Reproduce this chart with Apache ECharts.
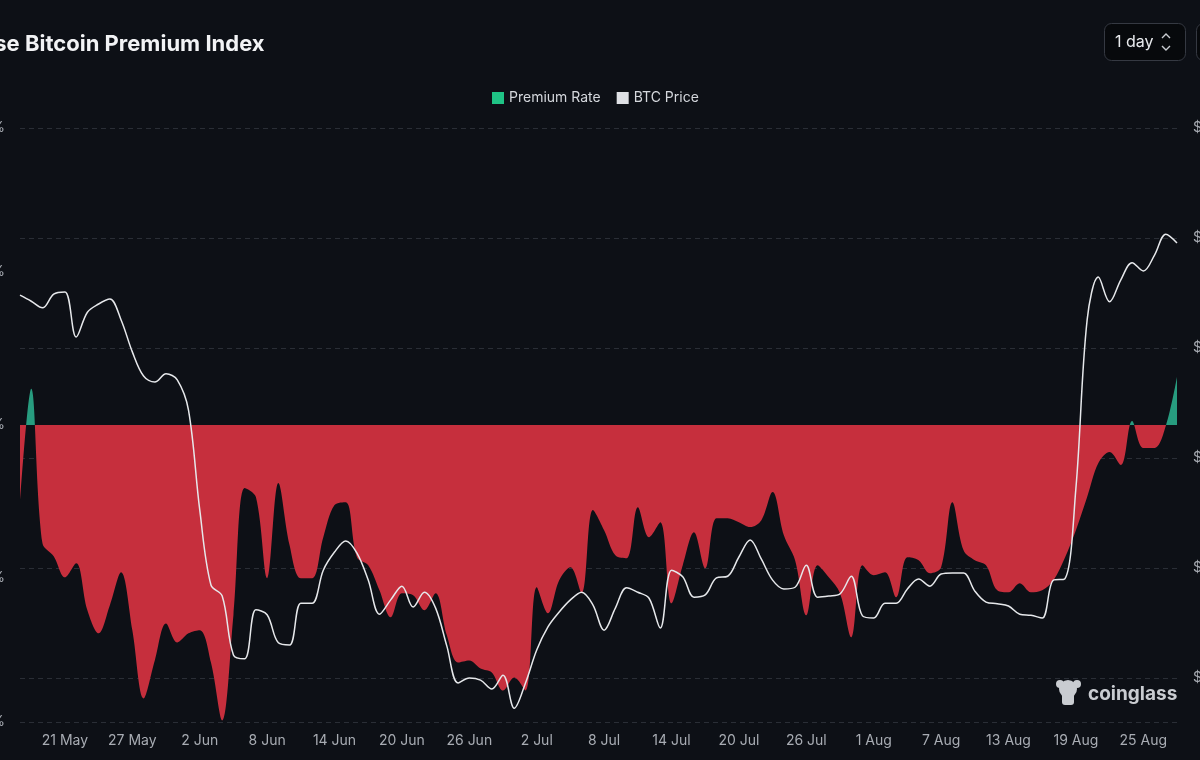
<!DOCTYPE html>
<html>
<head>
<meta charset="utf-8">
<script src="https://cdn.jsdelivr.net/npm/echarts@6/dist/echarts.min.js"></script>
<style>
html,body{margin:0;padding:0;background:#0d1016;}
#chart{width:1200px;height:760px;}
</style>
</head>
<body>
<div id="chart"></div>
<script>
// ---- data ----
var startDate = [2024, 4, 17]; // 17 May
var dayCount = 104;
var monthNames = ['Jan','Feb','Mar','Apr','May','Jun','Jul','Aug','Sep','Oct','Nov','Dec'];

var premiumRate = [
  -0.0510, 0.0236, -0.0772, -0.0857, -0.0995, -0.0903, -0.1210, -0.1361, -0.1178, -0.0962,
  -0.1341, -0.1786, -0.1538, -0.1296, -0.1420, -0.1361, -0.1341, -0.1551, -0.1930, -0.1243,
  -0.0412, -0.0471, -0.1001, -0.0379, -0.0785, -0.1001, -0.1001, -0.0733, -0.0523, -0.0504,
  -0.0864, -0.0916, -0.1080, -0.1256, -0.1099, -0.1112, -0.1210, -0.1099, -0.1374, -0.1551,
  -0.1538, -0.1590, -0.1616, -0.1734, -0.1649, -0.1734, -0.1060, -0.1230, -0.1014, -0.0929,
  -0.1099, -0.0556, -0.0687, -0.0851, -0.0870, -0.0537, -0.0733, -0.0635, -0.1165, -0.0916,
  -0.0700, -0.0936, -0.0609, -0.0609, -0.0635, -0.0667, -0.0622, -0.0438, -0.0720, -0.0883,
  -0.1243, -0.0916, -0.0995, -0.1099, -0.1387, -0.0916, -0.0981, -0.0962, -0.1125, -0.0864,
  -0.0883, -0.0968, -0.0929, -0.0504, -0.0818, -0.0883, -0.0916, -0.1080, -0.1093, -0.1034,
  -0.1093, -0.1080, -0.1014, -0.0870, -0.0687, -0.0471, -0.0249, -0.0177, -0.0262, 0.0026,
  -0.0150, -0.0150, -0.0007, 0.0314
];

var btcPrice = [
  62960, 62850, 62730, 62980, 63020, 62200, 62650, 62800, 62890, 62510,
  61930, 61490, 61380, 61530, 61420, 60870, 59060, 57690, 57490, 56420,
  56350, 57240, 57150, 56640, 56600, 57360, 57360, 57960, 58290, 58490,
  58270, 57780, 57160, 57420, 57670, 57290, 57560, 57270, 56580, 55910,
  56000, 55960, 55800, 56050, 55450, 55910, 56510, 56930, 57200, 57420,
  57560, 57330, 56870, 57270, 57640, 57560, 57450, 56910, 57960, 57840,
  57470, 57510, 57820, 57850, 58200, 58510, 58160, 57780, 57620, 57650,
  58050, 57470, 57490, 57530, 57850, 57130, 57090, 57360, 57360, 57620,
  57800, 57670, 57890, 57910, 57910, 57580, 57380, 57350, 57310, 57160,
  57140, 57090, 57780, 57800, 59450, 62510, 63290, 62840, 63240, 63550,
  63400, 63690, 64070, 63910
];

var leftAxisRange = [-0.194, 0.194];
var rightAxisRange = [55200, 66000];

// categories
var categories = [];
(function () {
  var t0 = Date.UTC(startDate[0], startDate[1], startDate[2]);
  for (var i = 0; i < dayCount; i++) {
    var d = new Date(t0 + i * 86400000);
    categories.push(d.getUTCDate() + ' ' + monthNames[d.getUTCMonth()]);
  }
})();

var RED = '#c62f3d';
var GREEN = '#279c7f';
var LABEL = '#a8acb3';
var GRID = '#2a2e36';
var FONT = 'Inter, "Noto Sans", sans-serif';

var GRID_TOP = 128, GRID_BOTTOM = 38, H = 760;
var plotTop = GRID_TOP, plotBottom = H - GRID_BOTTOM;
var zeroOffset = leftAxisRange[1] / (leftAxisRange[1] - leftAxisRange[0]);

var chart = echarts.init(document.getElementById('chart'), null, {renderer: 'canvas'});

function labelEvery(idx) { return (idx - 4) % 6 === 0; }

var areaFill = new echarts.graphic.LinearGradient(0, plotTop, 0, plotBottom, [
  {offset: 0, color: GREEN},
  {offset: zeroOffset, color: GREEN},
  {offset: zeroOffset, color: RED},
  {offset: 1, color: RED}
], true);

var option = {
  backgroundColor: '#0d1016',
  animation: false,
  title: {
    text: 'Coinbase Bitcoin Premium Index',
    left: -87,
    top: 28,
    textStyle: {color: '#f2f3f5', fontSize: 22, fontWeight: 'bold', fontFamily: FONT}
  },
  legend: {
    top: 86,
    left: 487,
    itemWidth: 12,
    itemHeight: 12,
    itemGap: 16,
    icon: 'rect',
    textStyle: {color: '#d4d7dc', fontSize: 14, fontFamily: FONT},
    data: [
      {name: 'Premium Rate', itemStyle: {color: '#1fc385'}},
      {name: 'BTC Price', itemStyle: {color: '#dfe1e5'}}
    ]
  },
  grid: {left: 20, right: 23, top: GRID_TOP, bottom: GRID_BOTTOM, containLabel: false, outerBoundsMode: 'none'},
  xAxis: {
    type: 'category',
    data: categories,
    boundaryGap: false,
    axisLine: {show: false},
    axisTick: {show: false},
    splitLine: {show: false},
    axisLabel: {
      interval: labelEvery,
      color: LABEL,
      fontSize: 14,
      margin: 12,
      fontFamily: FONT
    }
  },
  yAxis: [
    {
      type: 'value',
      position: 'left',
      min: leftAxisRange[0],
      max: leftAxisRange[1],
      splitNumber: 5,
      splitLine: {show: false},
      axisLine: {show: false},
      axisTick: {show: false},
      axisLabel: {
        color: LABEL, fontSize: 14, margin: 15,
        fontFamily: FONT,
        formatter: function (v) { return v.toFixed(2) + '%'; }
      }
    },
    {
      type: 'value',
      position: 'right',
      min: rightAxisRange[0],
      max: rightAxisRange[1],
      splitNumber: 5,
      axisLine: {show: false},
      axisTick: {show: false},
      splitLine: {show: true, lineStyle: {color: GRID, type: [5, 4], width: 1}},
      axisLabel: {
        color: LABEL, fontSize: 14, margin: 16, showMinLabel: false,
        fontFamily: FONT,
        formatter: function (v) { return '$' + (v / 1000).toFixed(0) + 'K'; }
      }
    }
  ],
  series: [
    {
      name: 'Premium Rate',
      type: 'line',
      yAxisIndex: 0,
      data: premiumRate,
      smooth: 0.35,
      symbol: 'none',
      itemStyle: {color: '#1fc385'},
      lineStyle: {width: 0},
      areaStyle: {color: areaFill, opacity: 1},
      z: 2
    },
    {
      name: 'BTC Price',
      type: 'line',
      yAxisIndex: 1,
      data: btcPrice,
      smooth: 0.35,
      symbol: 'none',
      itemStyle: {color: '#e6e8eb'},
      lineStyle: {color: '#e6e8eb', width: 1.5},
      z: 3
    }
  ],
  graphic: [
    {
      type: 'rect',
      shape: {x: 1104.5, y: 23.5, width: 81, height: 37, r: 7},
      style: {fill: '#07090c', stroke: '#353942', lineWidth: 1}
    },
    {
      type: 'text',
      x: 1115, y: 42,
      style: {text: '1 day', fill: '#e8eaed', fontSize: 16, fontFamily: FONT, verticalAlign: 'middle'}
    },
    {
      type: 'polyline',
      shape: {points: [[1162, 38], [1166, 34], [1170, 38]]},
      style: {stroke: '#c9ccd1', lineWidth: 1.4, fill: null}
    },
    {
      type: 'polyline',
      shape: {points: [[1162, 46], [1166, 50], [1170, 46]]},
      style: {stroke: '#c9ccd1', lineWidth: 1.4, fill: null}
    },
    {
      type: 'rect',
      shape: {x: 1196.5, y: 23.5, width: 40, height: 37, r: 7},
      style: {fill: '#07090c', stroke: '#353942', lineWidth: 1}
    },
    {
      type: 'group',
      children: [
        {type: 'circle', shape: {cx: 1068, cy: 689, r: 9}, style: {fill: '#c9ccd1'}},
        {type: 'circle', shape: {cx: 1060, cy: 684, r: 4}, style: {fill: '#c9ccd1'}},
        {type: 'circle', shape: {cx: 1077, cy: 684, r: 4}, style: {fill: '#c9ccd1'}},
        {type: 'rect', shape: {x: 1062, y: 693, width: 12, height: 12, r: 3}, style: {fill: '#c9ccd1'}},
        {
          type: 'text', x: 1088, y: 694,
          style: {text: 'coinglass', fill: '#c9ccd1', fontSize: 19, fontWeight: 'bold', fontFamily: FONT, verticalAlign: 'middle'}
        }
      ]
    }
  ]
};

chart.setOption(option);
</script>
</body>
</html>
